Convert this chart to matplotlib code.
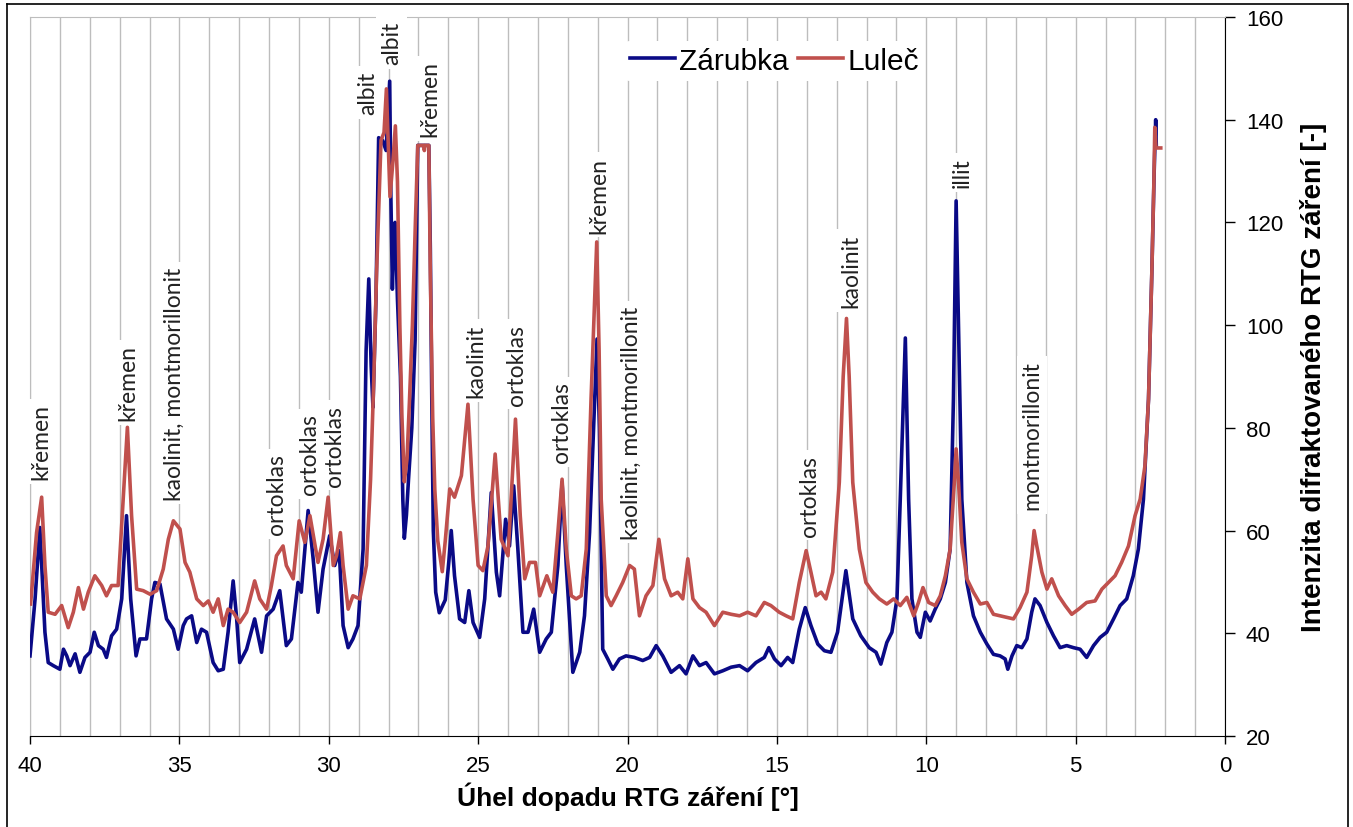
import matplotlib
matplotlib.use("Agg")
import matplotlib.pyplot as plt
from matplotlib.lines import Line2D
from matplotlib.ticker import MultipleLocator

# difraktogram - vzorek Zarubka
theta_zarubka = [40.0, 39.83, 39.67, 39.5, 39.39, 39.22, 39.0, 38.88, 38.77, 38.66, 38.49, 38.33,
                 38.16, 37.99, 37.85, 37.71, 37.55, 37.44, 37.27, 37.1, 36.93, 36.77, 36.63, 36.45,
                 36.32, 36.1, 35.93, 35.82, 35.65, 35.43, 35.2, 35.04, 34.87, 34.76, 34.59, 34.42,
                 34.26, 34.09, 33.87, 33.7, 33.53, 33.37, 33.2, 33.09, 32.98, 32.75, 32.48, 32.25,
                 32.08, 31.86, 31.64, 31.42, 31.25, 31.03, 30.92, 30.69, 30.52, 30.36, 30.19, 29.97,
                 29.8, 29.65, 29.52, 29.35, 29.19, 29.02, 28.85, 28.75, 28.66, 28.58, 28.52, 28.42,
                 28.33, 28.2, 28.08, 27.96, 27.92, 27.87, 27.82, 27.78, 27.7, 27.6, 27.52, 27.47,
                 27.4, 27.33, 27.22, 27.11, 27.02, 26.65, 26.6, 26.55, 26.5, 26.42, 26.3, 26.1,
                 25.98, 25.9, 25.79, 25.62, 25.45, 25.31, 25.17, 24.95, 24.78, 24.56, 24.39, 24.28,
                 24.08, 23.95, 23.81, 23.67, 23.5, 23.33, 23.14, 22.94, 22.72, 22.55, 22.33, 22.19,
                 22.05, 21.83, 21.6, 21.44, 21.27, 21.1, 21.02, 20.94, 20.83, 20.66, 20.49, 20.27,
                 20.05, 19.77, 19.49, 19.26, 19.04, 18.82, 18.54, 18.26, 18.04, 17.81, 17.59, 17.37,
                 17.09, 16.81, 16.53, 16.25, 15.98, 15.7, 15.42, 15.27, 15.08, 14.86, 14.64, 14.47,
                 14.25, 14.05, 13.86, 13.63, 13.41, 13.19, 12.97, 12.69, 12.46, 12.19, 11.91, 11.68,
                 11.52, 11.32, 11.15, 10.98, 10.87, 10.7, 10.59, 10.48, 10.31, 10.2, 10.03, 9.87,
                 9.7, 9.53, 9.36, 9.2, 9.09, 9.0, 8.92, 8.81, 8.64, 8.42, 8.19, 7.97,
                 7.75, 7.53, 7.36, 7.27, 7.13, 6.97, 6.8, 6.63, 6.47, 6.36, 6.19, 5.96,
                 5.74, 5.52, 5.3, 5.07, 4.85, 4.63, 4.4, 4.18, 3.96, 3.73, 3.51, 3.29,
                 3.07, 2.9, 2.73, 2.56, 2.45, 2.37, 2.32, 2.3]
int_zarubka = [35.6, 46.7, 60.6, 40.2, 34.3, 33.7, 33.0, 36.9, 35.6, 33.7, 36.0, 32.4,
               35.3, 36.3, 40.2, 37.6, 36.9, 35.3, 39.5, 40.8, 46.7, 62.9, 46.7, 35.6,
               38.9, 38.9, 46.7, 49.9, 49.6, 42.8, 40.8, 36.9, 41.5, 42.8, 43.4, 38.2,
               40.8, 40.2, 34.3, 32.7, 33.0, 40.2, 50.2, 43.4, 34.3, 36.9, 42.8, 36.3,
               43.4, 44.7, 48.3, 37.6, 38.9, 49.9, 48.0, 63.9, 54.4, 44.1, 52.5, 59.0,
               53.2, 56.1, 41.5, 37.2, 38.9, 41.5, 56.4, 95.0, 109.0, 92.0, 84.0, 105.0,
               136.5, 136.0, 134.0, 147.5, 125.0, 107.0, 118.0, 120.0, 105.0, 90.0, 66.0, 58.5,
               63.0, 70.0, 80.0, 97.0, 135.0, 135.0, 115.0, 85.0, 60.0, 48.0, 44.0, 46.5,
               54.0, 60.0, 51.2, 42.8, 42.1, 48.3, 42.1, 39.2, 46.7, 67.4, 51.9, 47.3,
               62.2, 57.0, 68.7, 56.4, 40.2, 40.2, 44.7, 36.3, 38.9, 40.2, 53.2, 69.4,
               53.2, 32.4, 36.3, 43.4, 59.6, 85.0, 97.3, 80.0, 36.9, 35.0, 33.0, 35.0,
               35.6, 35.3, 34.7, 35.3, 37.6, 35.6, 32.4, 33.7, 32.1, 35.6, 33.7, 34.3,
               32.1, 32.7, 33.4, 33.7, 32.7, 34.3, 35.3, 37.2, 35.0, 33.7, 35.3, 34.3,
               40.8, 45.0, 41.5, 37.9, 36.6, 36.3, 40.2, 52.2, 42.8, 39.5, 37.2, 36.3,
               34.0, 38.2, 40.2, 46.7, 66.1, 97.5, 66.1, 46.7, 40.2, 39.2, 44.1, 42.4,
               44.7, 46.7, 49.9, 56.4, 85.6, 124.2, 100.0, 66.1, 49.9, 43.4, 40.2, 37.9,
               35.9, 35.6, 35.0, 33.0, 35.6, 37.6, 37.2, 38.9, 44.1, 46.7, 45.4, 42.1,
               39.5, 37.2, 37.6, 37.2, 36.9, 35.3, 37.6, 39.2, 40.2, 42.8, 45.4, 46.7,
               51.2, 56.4, 66.1, 85.6, 110.0, 130.0, 140.0, 135.0]

# difraktogram - vzorek Lulec
theta_lulec = [39.98, 39.78, 39.61, 39.5, 39.39, 39.16, 38.94, 38.72, 38.55, 38.38, 38.21, 38.05,
               37.83, 37.6, 37.44, 37.27, 37.05, 36.9, 36.74, 36.6, 36.43, 36.21, 35.98, 35.76,
               35.54, 35.37, 35.2, 34.98, 34.81, 34.65, 34.42, 34.2, 34.03, 33.87, 33.7, 33.53,
               33.37, 33.2, 32.98, 32.75, 32.48, 32.31, 32.08, 31.92, 31.75, 31.53, 31.42, 31.19,
               30.99, 30.8, 30.63, 30.36, 30.19, 30.02, 29.85, 29.74, 29.61, 29.52, 29.35, 29.19,
               28.96, 28.74, 28.6, 28.5, 28.4, 28.33, 28.25, 28.15, 28.07, 27.95, 27.85, 27.77,
               27.7, 27.62, 27.55, 27.47, 27.38, 27.3, 27.2, 27.1, 27.02, 26.82, 26.8, 26.78,
               26.65, 26.6, 26.52, 26.45, 26.35, 26.2, 26.1, 25.95, 25.79, 25.56, 25.34, 25.17,
               25.0, 24.84, 24.67, 24.43, 24.23, 24.0, 23.75, 23.59, 23.44, 23.28, 23.08, 22.94,
               22.7, 22.5, 22.33, 22.19, 22.05, 21.88, 21.72, 21.55, 21.38, 21.22, 21.03, 20.95,
               20.88, 20.71, 20.55, 20.38, 20.16, 19.93, 19.77, 19.6, 19.38, 19.15, 18.95, 18.76,
               18.54, 18.32, 18.15, 17.98, 17.81, 17.59, 17.37, 17.09, 16.81, 16.53, 16.25, 15.98,
               15.7, 15.42, 15.2, 14.92, 14.69, 14.47, 14.25, 14.02, 13.86, 13.69, 13.52, 13.36,
               13.13, 12.91, 12.78, 12.67, 12.58, 12.46, 12.24, 12.02, 11.79, 11.57, 11.32, 11.09,
               10.87, 10.65, 10.42, 10.26, 10.11, 9.92, 9.7, 9.53, 9.36, 9.2, 9.06, 9.0,
               8.92, 8.81, 8.64, 8.42, 8.19, 7.97, 7.75, 7.53, 7.3, 7.08, 6.86, 6.63,
               6.47, 6.39, 6.3, 6.13, 5.96, 5.8, 5.57, 5.35, 5.13, 4.9, 4.63, 4.35,
               4.12, 3.9, 3.68, 3.46, 3.23, 3.01, 2.84, 2.68, 2.56, 2.45, 2.38, 2.35,
               2.31, 2.15]
int_lulec = [45.7, 59.6, 66.5, 53.2, 44.1, 43.7, 45.4, 41.1, 44.1, 48.9, 44.7, 48.0,
             51.2, 49.3, 47.3, 49.3, 49.3, 64.2, 80.1, 62.9, 48.6, 48.3, 47.6, 48.3,
             52.5, 58.3, 61.9, 60.3, 53.8, 51.9, 46.7, 45.4, 46.3, 44.1, 46.7, 41.5,
             44.7, 44.1, 42.1, 44.1, 50.2, 46.7, 44.7, 49.3, 55.1, 57.0, 53.2, 50.6,
             61.9, 57.7, 62.9, 53.8, 58.3, 66.5, 53.2, 55.1, 59.6, 53.2, 44.7, 47.3,
             46.7, 53.2, 70.0, 88.0, 110.0, 122.0, 136.0, 137.5, 146.0, 125.0, 132.0, 138.8,
             128.0, 100.0, 82.0, 69.5, 74.0, 85.0, 100.0, 120.0, 135.0, 135.0, 134.0, 135.0,
             135.0, 110.0, 82.0, 68.0, 58.0, 52.0, 58.0, 68.1, 66.5, 70.7, 84.6, 66.1,
             53.2, 52.2, 57.0, 74.9, 58.3, 55.1, 81.7, 62.9, 50.6, 53.8, 53.8, 47.3,
             51.2, 48.0, 59.6, 70.0, 56.4, 47.3, 46.7, 47.3, 56.4, 85.6, 116.2, 95.0,
             66.1, 47.3, 45.4, 47.3, 49.9, 53.2, 52.5, 43.4, 47.3, 49.3, 58.3, 50.6,
             47.3, 48.0, 46.7, 54.5, 46.7, 45.0, 44.1, 41.5, 44.1, 43.7, 43.4, 44.1,
             43.4, 46.0, 45.4, 44.1, 43.4, 42.8, 49.9, 56.1, 51.9, 47.3, 48.0, 46.7,
             51.9, 69.4, 90.0, 101.3, 90.0, 69.4, 56.4, 49.9, 48.0, 46.7, 45.7, 46.7,
             45.4, 47.0, 43.4, 46.0, 48.9, 46.0, 45.4, 47.3, 51.2, 56.4, 69.4, 75.9,
             69.4, 57.7, 50.6, 48.0, 45.7, 46.0, 43.7, 43.4, 43.1, 42.8, 45.0, 48.0,
             55.1, 60.0, 57.0, 51.9, 48.6, 50.6, 47.3, 45.4, 43.7, 44.7, 46.0, 46.3,
             48.6, 49.9, 51.2, 53.8, 57.0, 62.9, 66.1, 72.6, 85.6, 110.0, 128.0, 138.5,
             134.5, 134.5]

# popisky mineralu (poloha a spodni okraj textu)
mineraly = ["křemen", "křemen", "kaolinit, montmorillonit", "ortoklas", "ortoklas", "ortoklas",
            "albit", "albit", "křemen", "kaolinit", "ortoklas", "ortoklas", "křemen",
            "kaolinit, montmorillonit", "ortoklas", "kaolinit", "illit", "montmorillonit"]
popis_theta = [39.65, 36.72, 35.16, 31.75, 30.64, 29.8, 28.68, 27.9, 26.62, 25.06, 23.7, 22.22,
               20.95, 19.88, 13.91, 12.53, 8.8, 6.46]
popis_int = [70.0, 81.5, 66.0, 59.3, 67.1, 68.7, 141.1, 150.8, 136.8, 86.0, 84.5, 73.3,
             118.0, 58.4, 59.0, 103.5, 126.9, 64.2]

modra = "#0a0a86"
cervena = "#c0504d"

fig = plt.figure(figsize=(13.53, 8.28), dpi=100)
ax = fig.add_axes([30 / 1353, 91 / 828, 1195 / 1353, 719 / 828])

ax.plot(theta_zarubka, int_zarubka, color=modra, lw=2.6, label="Zárubka", zorder=3)
ax.plot(theta_lulec, int_lulec, color=cervena, lw=2.6, label="Luleč", zorder=4)

for text, tx, ty in zip(mineraly, popis_theta, popis_int):
    ax.text(tx, ty, text, rotation=90, ha="center", va="bottom", fontsize=16.5,
            family=["Lato", "DejaVu Sans"], color="#222222", clip_on=False, zorder=6,
            bbox=dict(boxstyle="square,pad=0.2", fc="white", ec="none"))

ax.set_xlim(40, 0)
ax.set_ylim(20, 160)
ax.xaxis.set_major_locator(MultipleLocator(5))
ax.xaxis.set_minor_locator(MultipleLocator(1))
ax.yaxis.set_major_locator(MultipleLocator(20))
ax.grid(True, axis="x", which="both", color="#bdbdbd", lw=1.0, zorder=0)
ax.set_axisbelow(True)

ax.yaxis.tick_right()
ax.yaxis.set_label_position("right")
ax.tick_params(axis="x", which="major", direction="out", length=6, width=1, pad=8,
               labelsize=16, colors="black")
ax.tick_params(axis="x", which="minor", length=0)
ax.tick_params(axis="y", direction="out", length=7, width=1, pad=8, labelsize=16)
for lbl in ax.get_xticklabels() + ax.get_yticklabels():
    lbl.set_family("Liberation Sans")

ax.spines["left"].set_color("#bdbdbd")
ax.spines["top"].set_color("#bdbdbd")
ax.spines["bottom"].set_color("black")
ax.spines["right"].set_color("black")

ax.set_xlabel("Úhel dopadu RTG záření [°]", fontsize=19, fontweight="bold",
              family="Liberation Sans", labelpad=4)
ax.set_ylabel("Intenzita difraktovaného RTG záření [-]", fontsize=20, fontweight="bold",
              family="Liberation Sans", labelpad=12)

leg = ax.legend(loc="center", bbox_to_anchor=(0.623, 0.939), ncol=2, frameon=True,
                handlelength=1.5, handletextpad=0.15, columnspacing=0.3,
                borderpad=0.2, prop={"family": "Liberation Sans", "size": 21.5})
leg.get_frame().set_facecolor("white")
leg.get_frame().set_edgecolor("none")
leg.get_frame().set_alpha(1)
leg.set_zorder(7)

# ramecek kolem celeho obrazku
for xs, ys in [([7 / 1353, 7 / 1353], [0, 823 / 828]),
               ([7 / 1353, 1348 / 1353], [823 / 828, 823 / 828]),
               ([1348 / 1353, 1348 / 1353], [0, 823 / 828])]:
    fig.add_artist(Line2D(xs, ys, color="black", lw=1.2, zorder=-1))

fig.savefig("out.png", dpi=100)
